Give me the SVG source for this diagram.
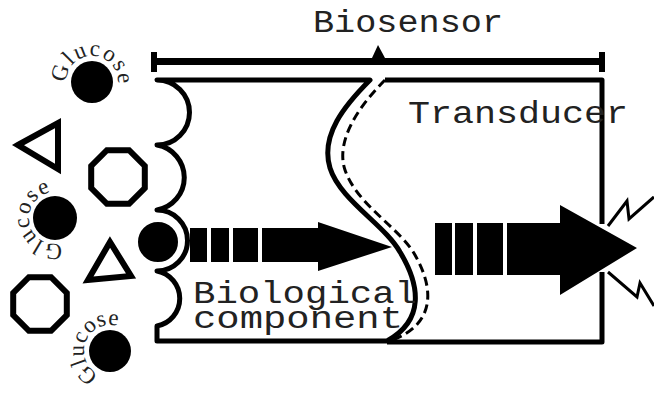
<svg xmlns="http://www.w3.org/2000/svg" width="654" height="394" viewBox="0 0 654 394">
  <style>
    .mono { font-family: "Liberation Mono", "Courier New", monospace; fill: #222; }
    .serif { font-family: "Liberation Serif", "Times New Roman", serif; fill: #222; font-size: 23px; }
    .wall { fill: none; stroke: #000; stroke-width: 5; stroke-linejoin: round; }
    .shape { fill: none; stroke: #000; stroke-width: 6; stroke-linejoin: miter; }
    .bolt { fill: none; stroke: #000; stroke-width: 3; stroke-linejoin: miter; }
    .solid { fill: #000; }
  </style>
  <defs>
    <polygon id="octagon" points="26.8,11.1 11.1,26.8 -11.1,26.8 -26.8,11.1 -26.8,-11.1 -11.1,-26.8 11.1,-26.8 26.8,-11.1"/>
    <path id="ring1" d="M66.0,82.9 A26,26 0 1 1 118.0,81.1 A26,26 0 1 1 66.0,82.9"/>
    <path id="ring2" d="M62.2,243.0 A26,26 0 1 1 47.8,193.0 A26,26 0 1 1 62.2,243.0"/>
    <path id="ring3" d="M99.0,374.6 A26,26 0 1 1 121.0,327.4 A26,26 0 1 1 99.0,374.6"/>
  </defs>
  <rect width="654" height="394" fill="#fff"/>

  <!-- overall span bracket -->
  <g id="biosensor">
    <text class="mono" x="313" y="32" font-size="31" textLength="190" lengthAdjust="spacingAndGlyphs">Biosensor</text>
    <rect class="solid" x="151" y="58" width="454" height="7"/>
    <rect class="solid" x="151" y="52" width="6" height="20"/>
    <rect class="solid" x="599" y="52" width="6" height="20"/>
    <polygon class="solid" points="372,58 378,45 385,58"/>
  </g>

  <!-- biological component with receptor wall -->
  <g id="biological-component">
    <path class="wall" d="M370,80 H157 A32,32 0 0 1 157,145 A33,33 0 0 1 157,210 A29,29 0 0 1 157,271 A28,28 0 0 1 157,326 V341 H387 C425,320 420,285 400,252 C385,225 340,200 330,168 C320,135 345,105 370,80 Z"/>
    <text class="mono" x="193" y="303" font-size="31" textLength="224" lengthAdjust="spacingAndGlyphs">Biological</text>
    <text class="mono" x="193" y="328" font-size="31" textLength="210" lengthAdjust="spacingAndGlyphs">component</text>
  </g>

  <!-- transducer -->
  <g id="transducer">
    <path class="wall" d="M385,80 H602 V224 M602,272 V342 H387"/>
    <path fill="none" stroke="#000" stroke-width="3" stroke-dasharray="9 5" d="M385,80 C360,105 335,140 345,170 C357,205 400,228 415,255 C435,290 435,325 390,341"/>
    <text class="mono" x="408" y="123" font-size="31" textLength="220" lengthAdjust="spacingAndGlyphs">Transducer</text>
  </g>

  <!-- analyte molecules -->
  <g id="glucose-1">
    <circle class="solid" cx="92" cy="82" r="21"/>
    <text class="serif"><textPath href="#ring1" textLength="84" lengthAdjust="spacing">Glucose</textPath></text>
  </g>
  <g id="glucose-2">
    <circle class="solid" cx="55" cy="218" r="22"/>
    <text class="serif"><textPath href="#ring2" textLength="84" lengthAdjust="spacing">Glucose</textPath></text>
  </g>
  <g id="glucose-3">
    <circle class="solid" cx="110" cy="351" r="21"/>
    <text class="serif"><textPath href="#ring3" textLength="78" lengthAdjust="spacing">Glucose</textPath></text>
  </g>
  <g id="bound-glucose">
    <circle class="solid" cx="158" cy="242" r="21" stroke="#fff" stroke-width="2"/>
  </g>
  <g id="triangle-1"><polygon class="shape" points="18,145 58,123 58,169"/></g>
  <g id="triangle-2"><polygon class="shape" points="110,242 88,280 131,276"/></g>
  <g id="octagon-1"><use href="#octagon" class="shape" transform="translate(118,177)"/></g>
  <g id="octagon-2"><use href="#octagon" class="shape" transform="translate(40,304)"/></g>

  <!-- signal flow -->
  <g id="connectors">
    <g id="signal-1" class="solid">
      <rect x="190" y="228" width="17" height="34"/>
      <rect x="211" y="228" width="18" height="34"/>
      <rect x="233" y="228" width="25" height="34"/>
      <polygon points="262,228 318,228 318,222 392,247 318,271 318,262 262,262"/>
    </g>
    <g id="signal-2" class="solid">
      <rect x="435" y="223" width="17" height="52"/>
      <rect x="455" y="223" width="18" height="52"/>
      <rect x="477" y="223" width="26" height="52"/>
      <polygon points="507,223 560,223 560,205 637,248 560,295 560,275 507,275"/>
    </g>
    <polyline class="bolt" points="608,226 627,201 629,219 654,197"/>
    <polyline class="bolt" points="608,272 637,297 640,283 654,306"/>
  </g>
</svg>
